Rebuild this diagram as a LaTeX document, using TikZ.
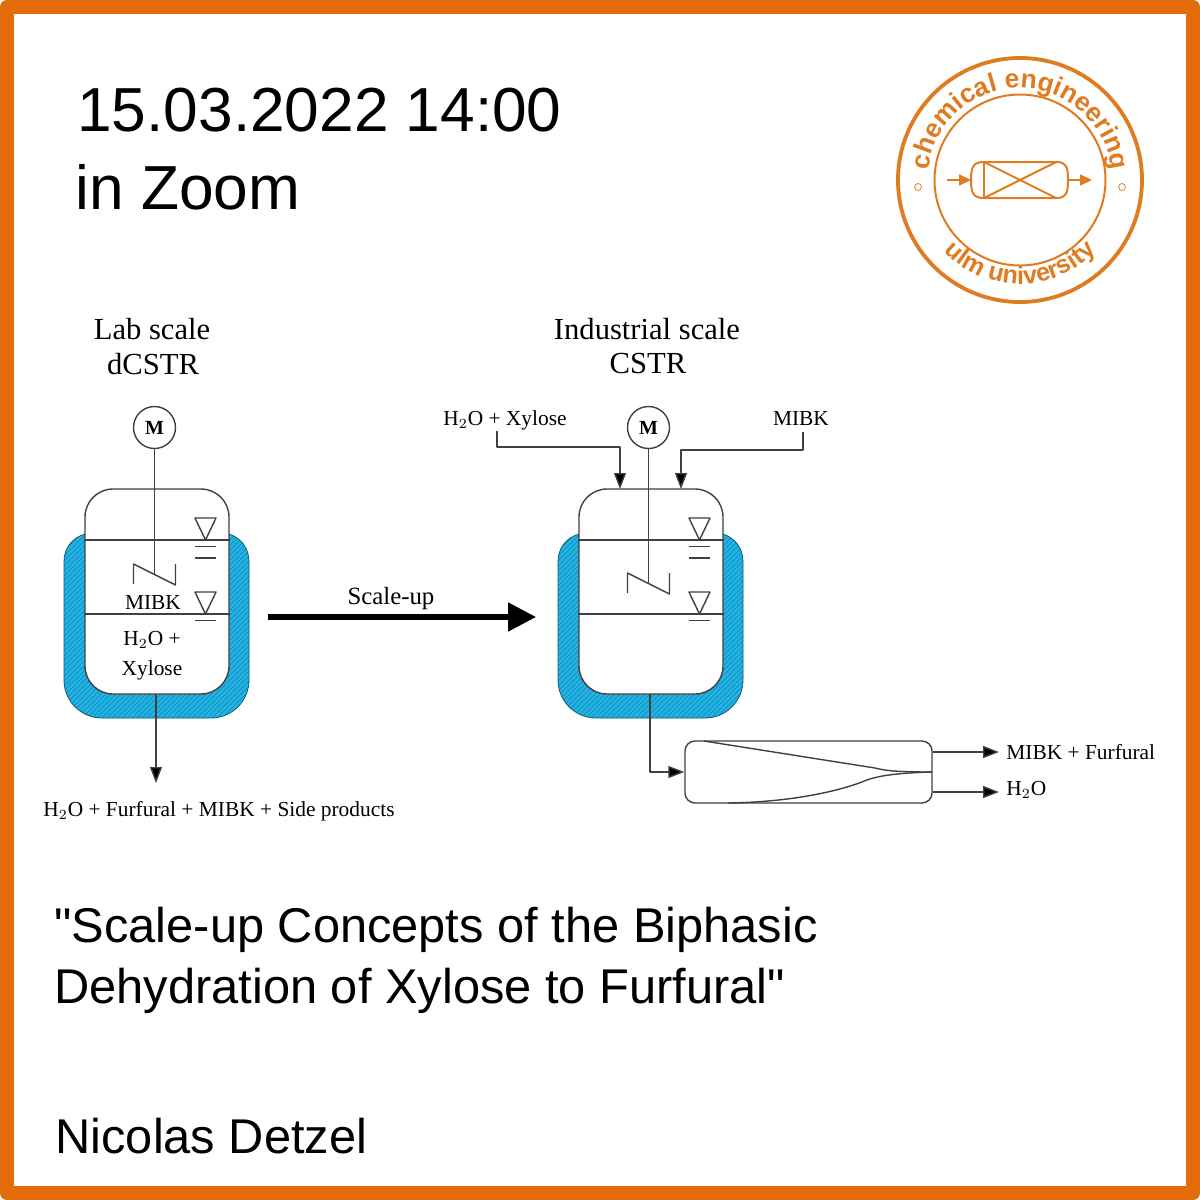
\documentclass[tikz,border=0pt]{standalone}
\usepackage{fontspec}
\usetikzlibrary{arrows.meta,decorations.text}
\newfontfamily\headfont{Liberation Sans}
\newfontfamily\labelfont{Liberation Serif}
\definecolor{frameorange}{HTML}{E36C09}
\definecolor{logoorange}{HTML}{DF7B20}
\definecolor{jacketblue}{HTML}{22B4E4}
\definecolor{hatchblue}{HTML}{1283AC}
\definecolor{linegray}{gray}{0.25}
\tikzset{
	bigtext/.style={anchor=base west, inner sep=0pt, font=\headfont\fontsize{31.1}{31}\selectfont},
	talktext/.style={anchor=base west, inner sep=0pt, font=\headfont\fontsize{24.4}{24}\selectfont},
	headlabel/.style={inner sep=0pt, font=\labelfont\fontsize{15.3}{15}\selectfont},
	smalllabel/.style={inner sep=0pt, font=\labelfont\fontsize{10.7}{10}\selectfont},
	outlabel/.style={anchor=west, inner sep=3.5pt, font=\labelfont\fontsize{10.7}{10}\selectfont},
	vline/.style={draw=linegray, line width=0.7pt},
	flow/.style={vline, -{Triangle[length=8pt,width=6pt,fill=black]}},
	vessel/.style={vline, fill=white, rounded corners=14pt, inner sep=0pt, minimum width=72pt, minimum height=102.5pt},
	motor/.style={vline, circle, fill=white, inner sep=0pt, minimum size=21pt, font=\labelfont\bfseries\fontsize{10}{10}\selectfont},
	logoline/.style={draw=logoorange, line width=1pt},
	logoflow/.style={logoline, -{Triangle[length=6pt,width=5.5pt]}, logoorange}
}
\begin{document}
\begin{tikzpicture}[x=0.5pt, y=-0.5pt, line join=round]
	\useasboundingbox (0,0) rectangle (1200,1200);
	\draw[frameorange, line width=7pt] (7,7) rectangle (1193,1193);
	%Texts
	\node[bigtext] (datetext) at (77,131) {15.03.2022 14:00};
	\node[bigtext] (zoomtext) at (75,209) {in Zoom};
	\node[talktext] (titleone) at (54,942) {"Scale-up Concepts of the Biphasic};
	\node[talktext] (titletwo) at (54,1003) {Dehydration of Xylose to Furfural"};
	\node[talktext] (speaker) at (55,1153) {Nicolas Detzel};
	%Both reactors
	\def \jacketpath{(85,534) .. controls (72,538) and (64,548) .. (64,562) [rounded corners=19pt] -- (64,718) -- (249,718) [sharp corners] -- (249,562) .. controls (249,548) and (241,538) .. (229,534) -- cycle}
	\foreach \ox/\nm/\iy in {0/A/0,494/B/9}{
		\begin{scope}[shift={(\ox,0)}]
			\begin{scope}
				\clip \jacketpath;
				\fill[jacketblue] (50,520) rectangle (260,730);
				\foreach \h in {-180,-175,...,260}
				\draw[hatchblue, line width=0.3pt] (\h,730) -- ++(220,-220);
			\end{scope}
			\draw[hatchblue!70!black, line width=0.4pt] \jacketpath;
			\node[vessel] (ves\nm) at (157,591.5) {};
			\draw[vline] (ves\nm.west |- 0,540) -- (ves\nm.east |- 0,540);
			\draw[vline] (ves\nm.west |- 0,614) -- (ves\nm.east |- 0,614);
			%Level marks
			\foreach \ly in {540,614}{
				\draw[vline] (195,\ly-22) -- (216,\ly-22) -- (205.5,\ly) -- cycle;
				\draw[vline] (195,\ly+6.5) -- (216,\ly+6.5);
			}
			\draw[vline] (195,558) -- (216,558);
			%Stirrer
			\node[motor] (motor\nm) at (154.5,427.5) {M};
			\coordinate (imp\nm) at (154.5,574+\iy);
			\draw[vline] (motor\nm) -- (imp\nm);
			\draw[vline] (133.5,584+\iy) -- (133.5,564+\iy) -- (175.5,585+\iy) -- (175.5,564+\iy);
		\end{scope}
	}
	%Lab scale
	\node[headlabel] (labone) at (152,329) {Lab scale};
	\node[headlabel] (labtwo) at (153,364) {dCSTR};
	\node[smalllabel] (mibkA) at (153,603) {MIBK};
	\node[smalllabel] (waterA) at (152,640) {H$_2$O +};
	\node[smalllabel] (xyloseA) at (152,670) {Xylose};
	\node[smalllabel] (prodA) at (219,811) {H$_2$O + Furfural + MIBK + Side products};
	\coordinate (outA) at (156,783);
	\draw[flow] (vesA.south -| outA) -- (outA);
	%Scale-up
	\node[smalllabel, font=\labelfont\fontsize{12.4}{12}\selectfont] (uplabel) at (391,599) {Scale-up};
	\coordinate (upstart) at (268,617);
	\coordinate (upend) at (536,617);
	\draw[line width=2.6pt, -{Triangle[length=14pt,width=14pt]}] (upstart) -- (upend);
	%Industrial scale
	\node[headlabel] (indone) at (647,329) {Industrial scale};
	\node[headlabel] (indtwo) at (648,364) {CSTR};
	\node[smalllabel] (feedX) at (505,420) {H$_2$O + Xylose};
	\node[smalllabel] (feedM) at (801,419) {MIBK};
	\coordinate (feedXs) at (497,431);
	\coordinate (feedMs) at (803,432);
	\coordinate (inX) at (620,489);
	\coordinate (inM) at (681,489);
	\draw[flow] (feedXs) -- ++(0,16) -| (inX);
	\draw[flow] (feedMs) -- ++(0,18) -| (inM);
	%Settler
	\node[vline, rounded corners=5pt, inner sep=0pt, minimum width=123.5pt, minimum height=31pt] (settler) at (808.5,772) {};
	\draw[vline] (704,741) -- (875,768) .. controls (885,770.5) and (895,772) .. (932,772);
	\draw[vline] (728,803) .. controls (790,802) and (835,792) .. (862,782) .. controls (875,776) and (895,773) .. (932,772);
	\coordinate (outB) at (650,694);
	\draw[flow] (outB) |- (settler.west);
	\node[outlabel] (prodM) at (999,752) {MIBK + Furfural};
	\node[outlabel] (prodW) at (999,790) {H$_2$O};
	\draw[flow] (settler.east |- prodM.west) -- (prodM.west);
	\draw[flow] (settler.east |- 0,792) -- (999,792);
	%Logo
	\begin{scope}[shift={(1020,180)}, x=0.5pt, y=0.5pt]
		\node[logoline, line width=1.9pt, circle, inner sep=0pt, minimum size=122pt] (ringout) at (0,0) {};
		\node[logoline, circle, inner sep=0pt, minimum size=85.5pt] (ringin) at (0,0) {};
		\node[logoline, line width=0.4pt, circle, inner sep=0pt, minimum size=3.5pt] (dotl) at (-102,-7) {};
		\node[logoline, line width=0.4pt, circle, inner sep=0pt, minimum size=3.5pt] (dotr) at (102,-7) {};
		\path[decorate, decoration={text along path, text align=center, text={|\headfont\bfseries\fontsize{13.2}{14}\selectfont\color{logoorange}|chemical engineering}}] (190:92) arc (190:-10:92);
		\path[decorate, decoration={text along path, text align=center, text={|\headfont\bfseries\fontsize{12.6}{14}\selectfont\color{logoorange}|ulm university}}] (210:104) arc (210:330:104);
		\draw[logoline] (-49,0) .. controls (-49,14) and (-46,18) .. (-36,18) -- (36,18) .. controls (46,18) and (48,14) .. (48,0) .. controls (48,-14) and (46,-18) .. (36,-18) -- (-36,-18) .. controls (-46,-18) and (-49,-14) .. (-49,0);
		\draw[logoline] (-36,18) -- (-36,-18);
		\draw[logoline] (-36,18) -- (36,-18) (-36,-18) -- (36,18);
		\coordinate (inleft) at (-73,0);
		\coordinate (inright) at (-49,0);
		\coordinate (exleft) at (48,0);
		\coordinate (exright) at (72,0);
		\draw[logoflow] (inleft) -- (inright);
		\draw[logoflow] (exleft) -- (exright);
	\end{scope}
\end{tikzpicture}
\end{document}
